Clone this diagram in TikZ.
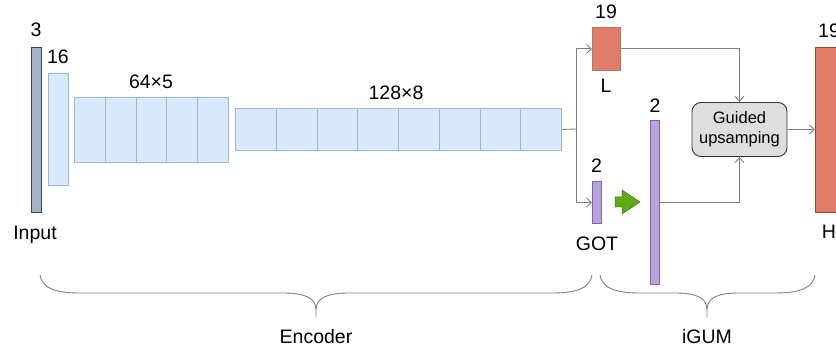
\documentclass[tikz,border=0pt]{standalone}
\usepackage{fontspec}
\setmainfont{Liberation Sans}
\usetikzlibrary{arrows.meta}
\definecolor{inFill}{HTML}{A5B2C0}
\definecolor{inDraw}{HTML}{2E4660}
\definecolor{encFill}{HTML}{DAE8FC}
\definecolor{encDraw}{HTML}{9DB6DE}
\definecolor{lowFill}{HTML}{E07C6B}
\definecolor{lowDraw}{HTML}{B8785A}
\definecolor{hiDraw}{HTML}{A0442E}
\definecolor{gotFill}{HTML}{B5A6D8}
\definecolor{gotDraw}{HTML}{8A5CB8}
\definecolor{arrFill}{HTML}{60A917}
\definecolor{arrDraw}{HTML}{2D7600}
\definecolor{guideFill}{HTML}{DEDEDE}
\definecolor{guideDraw}{HTML}{333333}
\definecolor{lineGray}{HTML}{808080}
\begin{document}
\begin{tikzpicture}[x=1pt,y=-1pt,
  font=\fontsize{19.5}{23}\selectfont,
  blk/.style={rectangle, inner sep=0pt, line width=0.9pt, anchor=north west},
  enc/.style={blk, fill=encFill, draw=encDraw},
  lbl/.style={anchor=base, inner sep=0pt},
  conn/.style={draw=lineGray, line width=0.9pt, -{Straight Barb[length=5pt,width=9pt]}},
  brace/.style={draw=lineGray, line width=0.9pt},
]
\useasboundingbox (0,0) rectangle (836,350);

% input and first feature map
\node[blk, fill=inFill, draw=inDraw, minimum width=10pt, minimum height=165pt] (inp) at (31,47) {};
\node[enc, minimum width=20pt, minimum height=112pt] (f16) at (48,73) {};

% 64x5 stage
\foreach \i in {0,...,4}
  \node[enc, minimum width=30.8pt, minimum height=65pt] (a\i) at (74+30.8*\i,97) {};
% 128x8 stage
\foreach \i in {1,...,8}
  \node[enc, minimum width=40.75pt, minimum height=42pt] (b\i) at (235+40.75*\i-40.75,108) {};

% low-resolution output and GOT map
\node[blk, fill=lowFill, draw=lowDraw, minimum width=28pt, minimum height=43pt] (low) at (592,27) {};
\node[blk, fill=gotFill, draw=gotDraw, minimum width=9pt, minimum height=42pt] (got) at (592,181) {};
\node[blk, fill=gotFill, draw=gotDraw, minimum width=9pt, minimum height=164pt] (gotup) at (650,120) {};

% upsampling block
\node[rectangle, rounded corners=9pt, fill=guideFill, draw=guideDraw, line width=0.9pt,
      minimum width=95pt, minimum height=54pt, align=center, inner sep=0pt,
      font=\fontsize{16.5}{20}\selectfont] (guide) at (739.5,129.5) {Guided\\upsamping};

% high-resolution output
\node[blk, fill=lowFill, draw=hiDraw, minimum width=32pt, minimum height=165pt] (high) at (815,47) {};

% green arrow
\draw[fill=arrFill, draw=arrDraw, line width=0.5pt]
  (615,197) -- (622,197) -- (622,190) -- (640,202) -- (622,214) -- (622,207) -- (615,207) -- cycle;

% labels
\node[lbl] (t3) at (36,37) {3};
\node[lbl] (t16) at (58,64) {16};
\node[lbl] (t64) at (151,89) {64×5};
\node[lbl] (t128) at (396,100) {128×8};
\node[lbl] (t19a) at (606,19) {19};
\node[lbl] (tL) at (606,93) {L};
\node[lbl] (t2a) at (596.5,173) {2};
\node[lbl] (tGOT) at (597,250) {GOT};
\node[lbl] (t2b) at (655,113) {2};
\node[lbl] (tIn) at (35,240) {Input};
\node[lbl] (t19b) at (829,38) {19};
\node[lbl] (tH) at (829,239) {H};
\node[lbl] (tEnc) at (316,343) {Encoder};
\node[lbl] (tIGUM) at (707,343) {iGUM};

% connectors
\coordinate (split) at (576,129);
\draw[draw=lineGray, line width=0.9pt] (b8.east) -- (split);
\draw[conn] (split) |- (low.west);
\draw[conn] (split) |- (got.west);
\draw[conn] (low.east) -| (guide.north);
\draw[conn] (gotup.east) -| (guide.south);
\draw[conn] (guide.east) -- (guide.east -| high.west);

% braces
\draw[brace] (40,275) .. controls (42,288) and (55,293) .. (80,293) -- (283,293)
  .. controls (305,293) and (316,298) .. (316,310) -- (316,317)
  (316,310) .. controls (316,298) and (327,293) .. (349,293) -- (552,293)
  .. controls (577,293) and (590,288) .. (592,275);
\draw[brace] (600,275) .. controls (602,288) and (615,293) .. (640,293) -- (675,293)
  .. controls (697,293) and (707,298) .. (707,310) -- (707,317)
  (707,310) .. controls (707,298) and (717,293) .. (739,293) -- (775,293)
  .. controls (800,293) and (813,288) .. (815,275);
\end{tikzpicture}
\end{document}
